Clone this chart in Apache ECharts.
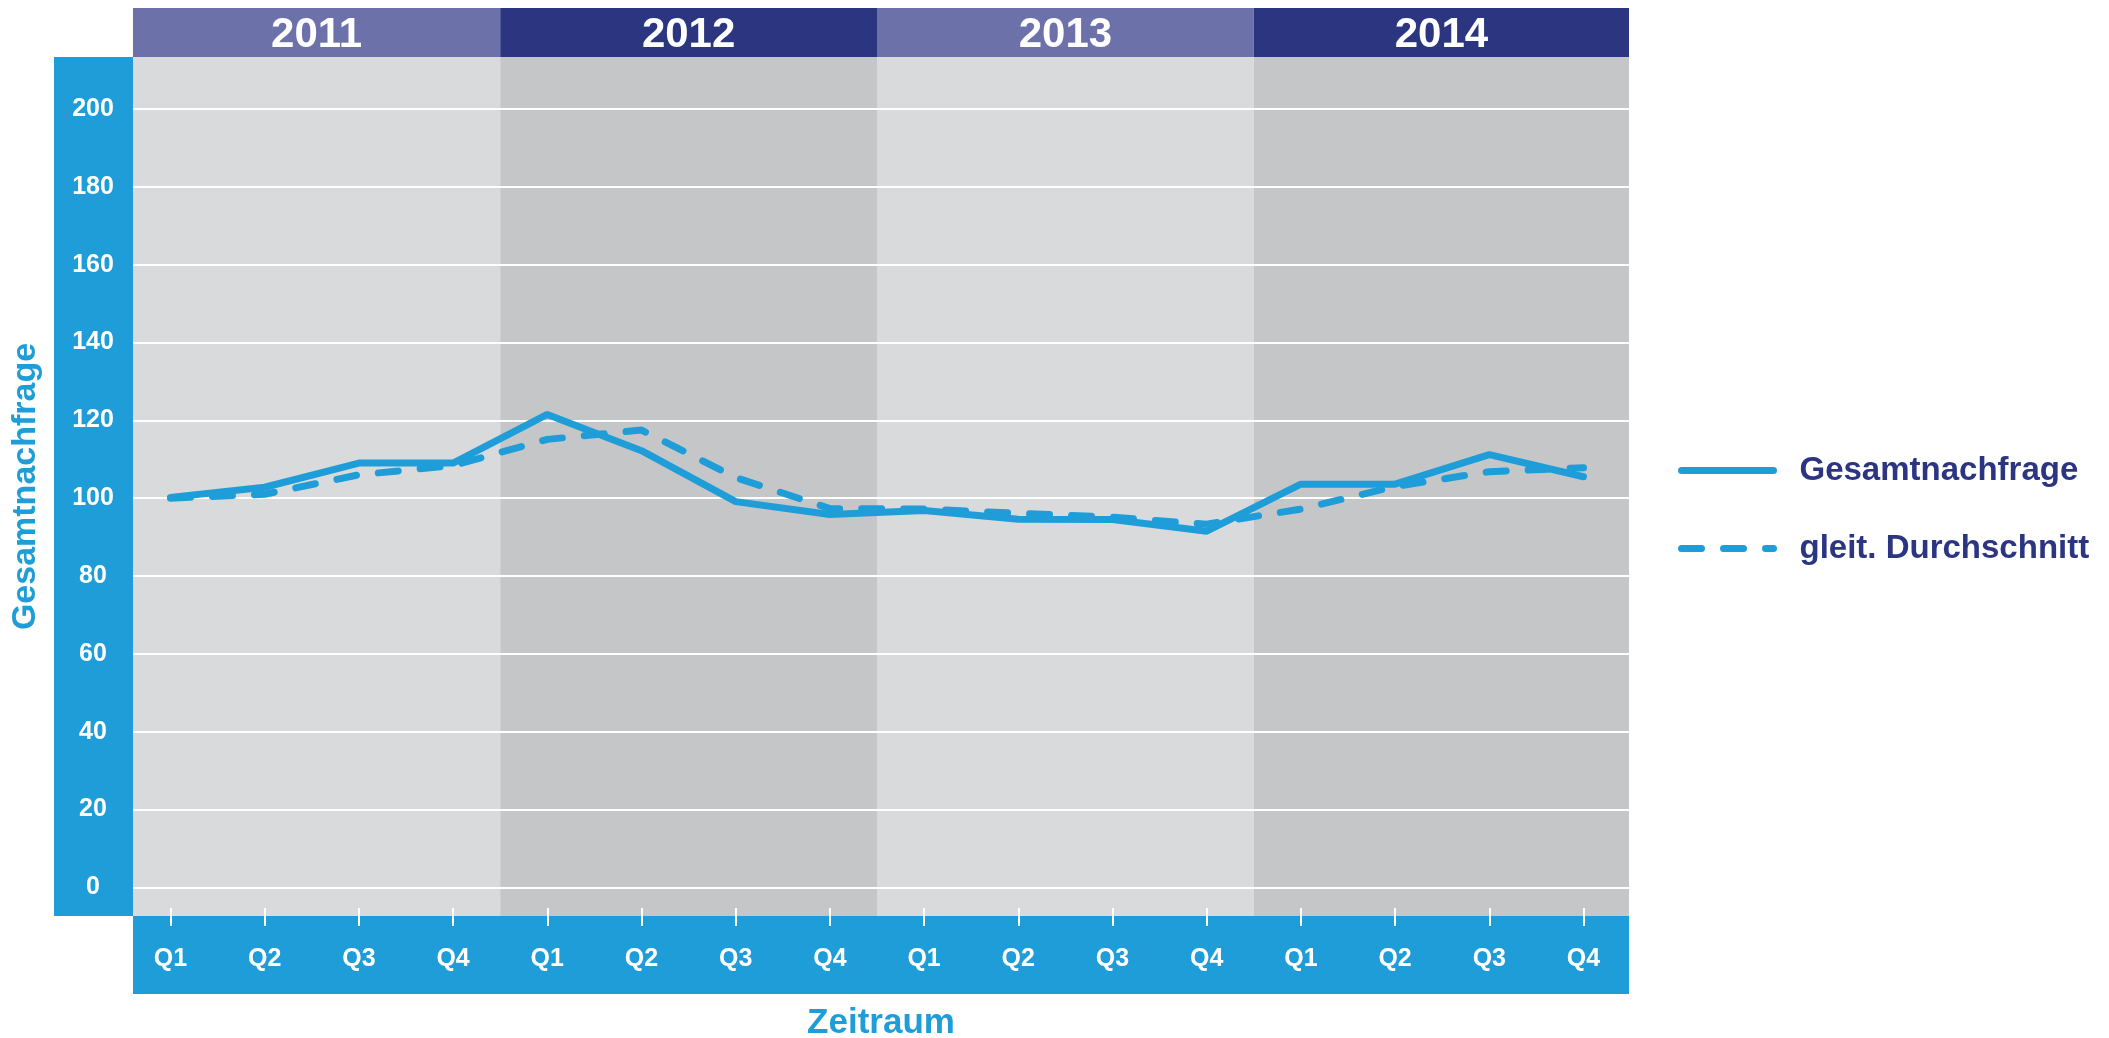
<!DOCTYPE html>
<html><head><meta charset="utf-8">
<script src="https://cdn.jsdelivr.net/npm/echarts@6/dist/echarts.min.js"></script>
<style>html,body{margin:0;padding:0;background:#fff}#c{width:2109px;height:1038px}</style>
</head><body><div id="c"></div>
<script>
// ---- data ----
const years = ['2011', '2012', '2013', '2014'];
const quarters = ['Q1', 'Q2', 'Q3', 'Q4'];
const gesamtnachfrage = [100.2, 102.8, 109, 109, 121.5, 112.2, 99.1, 95.8, 96.8, 94.6, 94.5, 91.5, 103.6, 103.6, 111.2, 105.5];
const gleitDurchschnitt = [100, 101, 106, 108.4, 115.1, 117.5, 105.3, 97.3, 97.2, 96.1, 95.1, 93.3, 97.2, 103, 106.8, 107.8];
const yTicks = [0, 20, 40, 60, 80, 100, 120, 140, 160, 180, 200];

// ---- styles ----
const BLUE = '#1f9dd8';
const NAVY = '#2b3582';
const HEAD_LIGHT = '#6c71aa';
const HEAD_DARK = '#2c3680';
const BG_LIGHT = '#d9dadc';
const BG_DARK = '#c5c6c8';
const FONT = '"Liberation Sans", Arial, Helvetica, sans-serif';

const X_MIN = -0.398, X_MAX = 15.483;
const xIdx = gesamtnachfrage.map((_, i) => i);

function yearSpan(i) {
  return [Math.max(X_MIN, i * 4 - 0.5), Math.min(X_MAX, i * 4 + 3.5)];
}

const bgAreas = years.map((y, i) => {
  const s = yearSpan(i);
  return [{ xAxis: s[0], itemStyle: { color: i % 2 ? BG_DARK : BG_LIGHT } }, { xAxis: s[1] }];
});
const headAreas = years.map((y, i) => {
  const s = yearSpan(i);
  return [{ name: y, xAxis: s[0], itemStyle: { color: i % 2 ? HEAD_DARK : HEAD_LIGHT } }, { xAxis: s[1] }];
});

const chart = echarts.init(document.getElementById('c'), null, { renderer: 'canvas' });
chart.setOption({
  animation: false,
  textStyle: { fontFamily: FONT },
  graphic: {
    elements: [
      { type: 'rect', z: -10, shape: { x: 54, y: 57, width: 79, height: 859 }, style: { fill: BLUE } },
      { type: 'rect', z: -10, shape: { x: 133, y: 916, width: 1496, height: 78 }, style: { fill: BLUE } }
    ]
  },
  grid: [
    { left: 133, right: 480, top: 57, bottom: 122, show: false, outerBoundsMode: 'none', containLabel: false },
    { left: 133, right: 480, top: 8, height: 49, show: false, outerBoundsMode: 'none', containLabel: false }
  ],
  xAxis: [
    {
      type: 'value', gridIndex: 0, min: X_MIN, max: X_MAX, offset: -8,
      axisLine: { show: false, onZero: false }, splitLine: { show: false },
      axisTick: { show: true, length: 18, lineStyle: { color: '#fff', width: 2 }, customValues: xIdx },
      axisLabel: {
        customValues: xIdx, formatter: v => quarters[Math.round(v) % 4],
        color: '#fff', fontSize: 25, fontWeight: 'bold', fontFamily: FONT, margin: 39
      },
      name: 'Zeitraum', nameLocation: 'middle', nameGap: 98,
      nameTextStyle: { color: BLUE, fontSize: 35, fontWeight: 'bold', fontFamily: FONT }
    },
    {
      type: 'value', gridIndex: 1, min: X_MIN, max: X_MAX, show: false
    }
  ],
  yAxis: [
    {
      type: 'value', gridIndex: 0, min: -7.375, max: 213.36,
      axisLine: { show: false },
      axisTick: { show: true, length: 6, lineStyle: { color: '#fff', width: 2 }, customValues: yTicks },
      axisLabel: {
        customValues: yTicks, color: '#fff', fontSize: 25, fontWeight: 'bold',
        fontFamily: FONT, align: 'center', margin: 40
      },
      splitLine: { show: true, lineStyle: { color: '#fff', width: 2 } },
      name: 'Gesamtnachfrage', nameLocation: 'middle', nameRotate: 90, nameGap: 90,
      nameTextStyle: { color: BLUE, fontSize: 34, fontWeight: 'bold', fontFamily: FONT }
    },
    { type: 'value', gridIndex: 1, min: 0, max: 1, show: false }
  ],
  legend: {
    orient: 'vertical', left: 1673, top: 449, itemWidth: 92, itemHeight: 30, itemGap: 45,
    data: ['Gesamtnachfrage', 'gleit. Durchschnitt'],
    lineStyle: { width: 7, cap: 'round' },
    itemStyle: { opacity: 0, borderWidth: 0 },
    textStyle: { color: NAVY, fontSize: 33, fontWeight: 'bold', fontFamily: FONT, padding: [0, 0, 0, 21] }
  },
  series: [
    {
      type: 'line', xAxisIndex: 0, yAxisIndex: 0, data: [], silent: true,
      markArea: { silent: true, z: -1, label: { show: false }, data: bgAreas }
    },
    {
      type: 'line', xAxisIndex: 1, yAxisIndex: 1, data: [], silent: true,
      markArea: {
        silent: true,
        label: { show: true, position: 'inside', offset: [0, 3], color: '#fff', fontSize: 42, fontWeight: 'bold', fontFamily: FONT },
        data: headAreas
      }
    },
    {
      name: 'gleit. Durchschnitt', type: 'line', xAxisIndex: 0, yAxisIndex: 0,
      data: gleitDurchschnitt.map((v, i) => [i, v]), symbol: 'none',
      lineStyle: { color: BLUE, width: 7, type: [20, 22], cap: 'round', join: 'round' },
      itemStyle: { color: BLUE }
    },
    {
      name: 'Gesamtnachfrage', type: 'line', xAxisIndex: 0, yAxisIndex: 0,
      data: gesamtnachfrage.map((v, i) => [i, v]), symbol: 'none',
      lineStyle: { color: BLUE, width: 7, cap: 'round' },
      itemStyle: { color: BLUE }
    }
  ]
});
</script>
</body></html>
